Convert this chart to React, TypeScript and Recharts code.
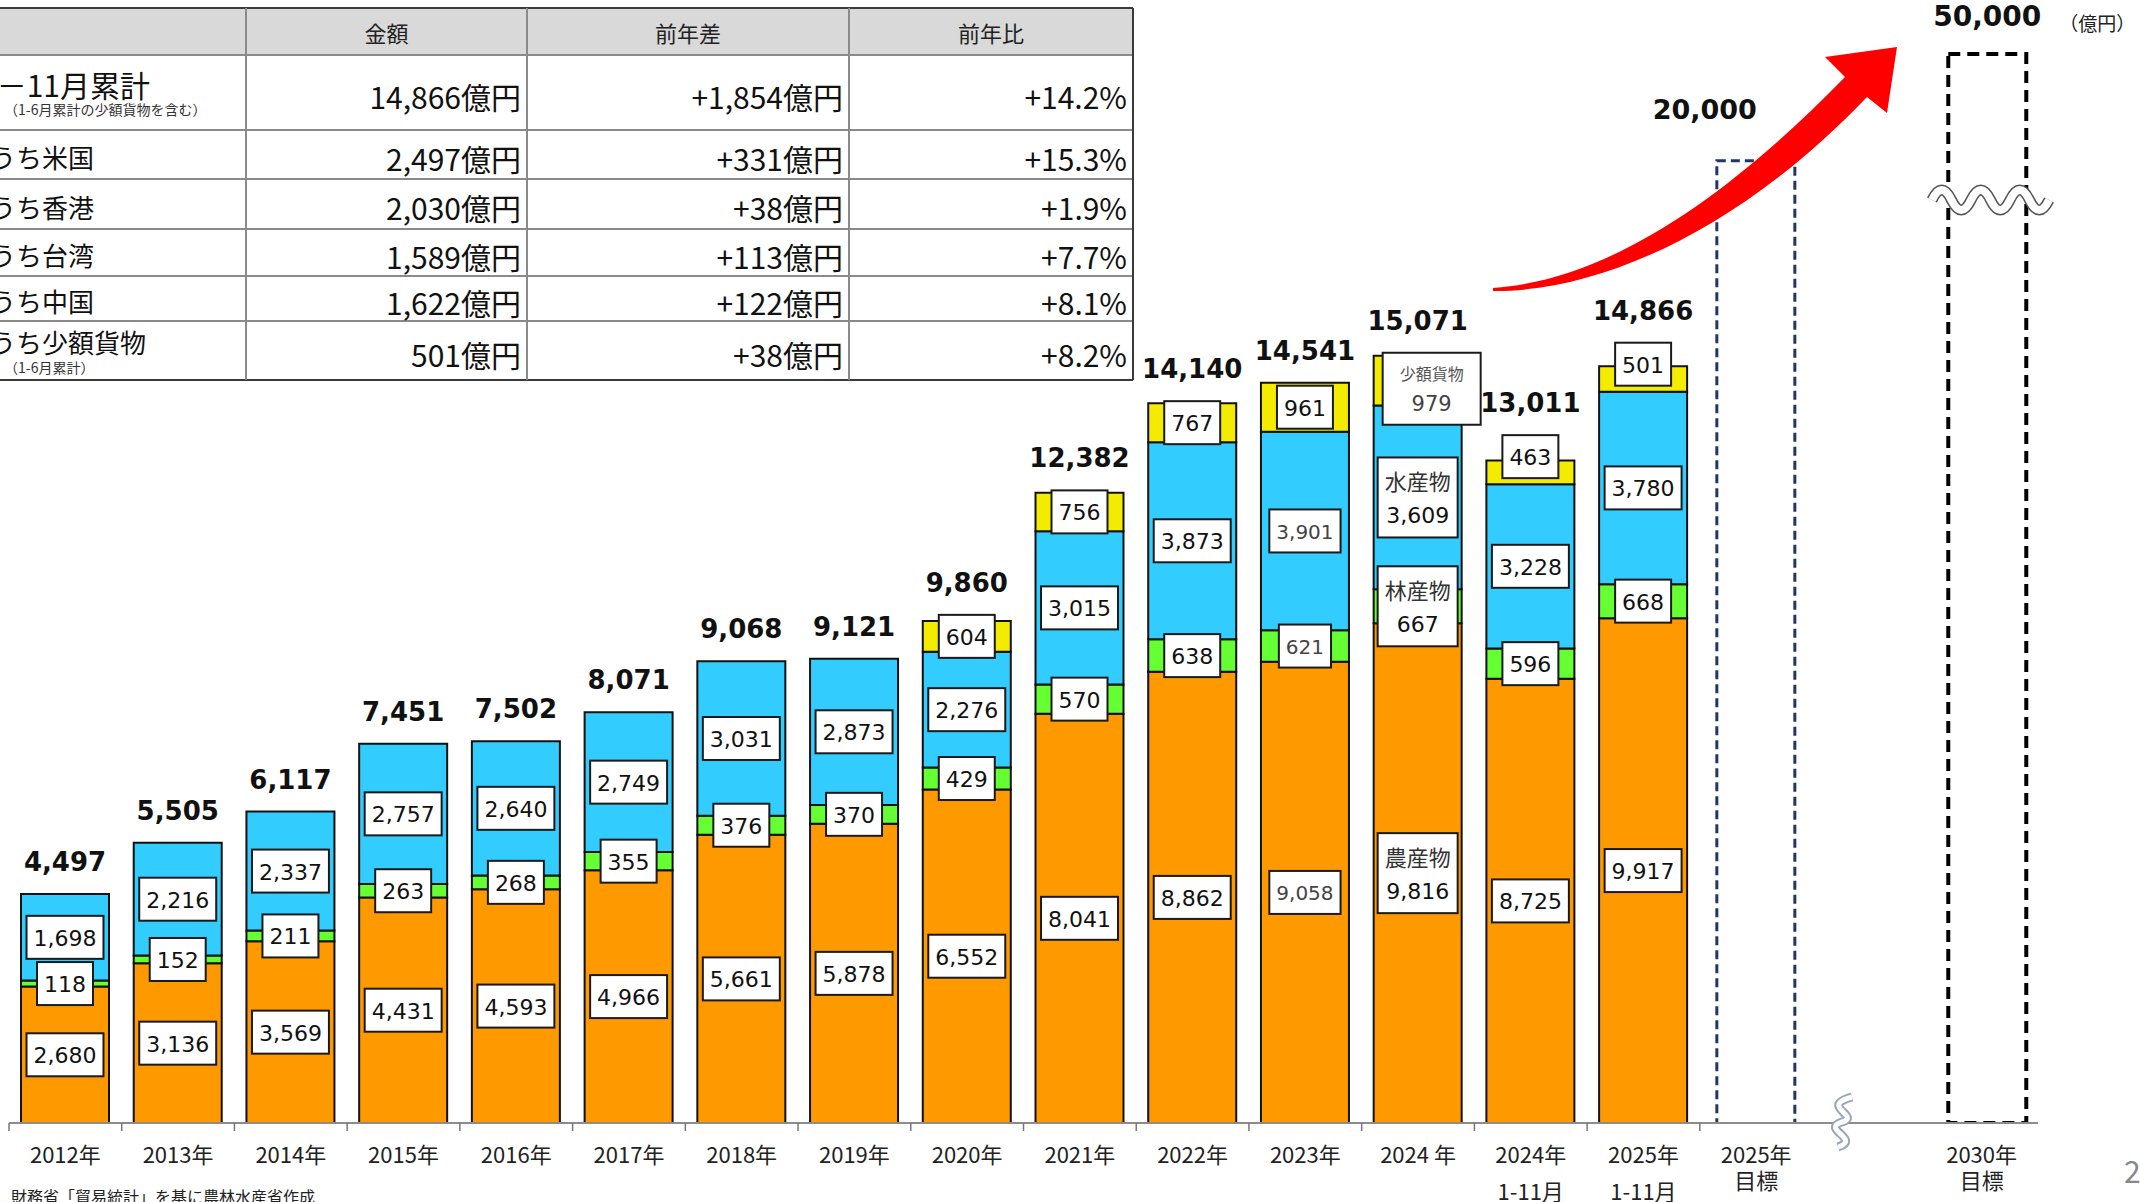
import React from "react";
import { ComposedChart, Bar, XAxis, YAxis, LabelList } from "recharts";

// categories on the x axis ("\n" splits a tick label into two lines, "" is the gap before 2030)
const categories = [
  "2012年", "2013年", "2014年", "2015年", "2016年", "2017年", "2018年", "2019年",
  "2020年", "2021年", "2022年", "2023年", "2024 年", "2024年\n1-11月", "2025年\n1-11月",
  "2025年\n目標", "", "2030年\n目標",
];

// 億円
const agri = [2680, 3136, 3569, 4431, 4593, 4966, 5661, 5878, 6552, 8041, 8862, 9058, 9816, 8725, 9917, null, null, null];
const forest = [118, 152, 211, 263, 268, 355, 376, 370, 429, 570, 638, 621, 667, 596, 668, null, null, null];
const fish = [1698, 2216, 2337, 2757, 2640, 2749, 3031, 2873, 2276, 3015, 3873, 3901, 3609, 3228, 3780, null, null, null];
const small = [null, null, null, null, null, null, null, null, 604, 756, 767, 961, 979, 463, 501, null, null, null];
const totals = [4497, 5505, 6117, 7451, 7502, 8071, 9068, 9121, 9860, 12382, 14140, 14541, 15071, 13011, 14866, null, null, null];

// targets: labelled value, and the height the dashed box is drawn to (axis is broken above it)
const targetLabel = [null, null, null, null, null, null, null, null, null, null, null, null, null, null, null, 20000, null, 50000];
const targetBox = [null, null, null, null, null, null, null, null, null, null, null, null, null, null, null, 18900, null, 21000];

// summary table
const tableHeaders = ["金額", "前年差", "前年比"];
const tableLabels = ["1－11月累計", "うち米国", "うち香港", "うち台湾", "うち中国", "うち少額貨物"];
const tableNotes = ["（1-6月累計の少額貨物を含む）", "", "", "", "", "（1-6月累計）"];
const tableAmount = ["14,866億円", "2,497億円", "2,030億円", "1,589億円", "1,622億円", "501億円"];
const tableDiff = ["+1,854億円", "+331億円", "+38億円", "+113億円", "+122億円", "+38億円"];
const tableRatio = ["+14.2%", "+15.3%", "+1.9%", "+7.7%", "+8.1%", "+8.2%"];

const SERIES_NAMES: Record<string, string> = { agri: "農産物", forest: "林産物", fish: "水産物", small: "少額貨物" };
const COLORS = { agri: "#FF9900", forest: "#66FF33", fish: "#33CCFF", small: "#F4EC00" };
const NAMED_CATEGORY = "2024 年";
const LIGHT_CATEGORY = "2023年";

const FONT_NUM = "'DejaVu Sans', Verdana, sans-serif";
const FONT_JP = "'Noto Sans CJK JP', 'Noto Sans CJK SC', sans-serif";

const W = 2140;
const H = 1202;
const MARGIN = { top: 3, right: 102, bottom: 0, left: 9 };
const X_AXIS_H = 79;
const Y_MAX = 22000;
const BAND = (W - MARGIN.left - MARGIN.right) / categories.length;
const BOX_H = 43;

const ROW_Y = [8, 55, 130, 179, 229, 276, 321, 380];
const COL_X = [246, 527, 849, 1133];

const data = categories.map((category, i) => ({
  category,
  agri: agri[i],
  forest: forest[i],
  fish: fish[i],
  small: small[i],
  total: totals[i],
  targetBox: targetBox[i],
  targetLabel: targetLabel[i],
}));

const fmt = (v: number) => v.toLocaleString("en-US");
const numWidth = (s: string, fs: number) =>
  s.split("").reduce((w, c) => w + (c === "," ? 0.318 : 0.636) * fs, 0);

function smallBoxTop(segTop: number, segH: number, named: boolean) {
  if (named) return segTop - 3;
  if (segH < 28) return segTop + segH - 6 - BOX_H;
  return segTop + segH / 2 - BOX_H / 2;
}

const rectOf = (props: any) => {
  const vb = props.viewBox ?? props;
  return { x: Number(vb.x), y: Number(vb.y), w: Number(vb.width), h: Number(vb.height) };
};

// which category a label belongs to, found from the bar's band
const entryOf = (props: any) => {
  const r = rectOf(props);
  const i = Math.floor((r.x + r.w / 2 - MARGIN.left) / BAND);
  return data[i];
};

function valueBox(series: string, value: number, x: number, y: number, w: number, h: number, category: string) {
  const cx = x + w / 2;
  const named = category === NAMED_CATEGORY;
  const text = fmt(value);
  if (named && series === "small") {
    const bw = 98;
    const bh = 72;
    const top = y - 3;
    const bx = cx + 14;
    return (
      <g>
        <rect x={bx - bw / 2} y={top} width={bw} height={bh} fill="#fff" stroke="#1a1a1a" strokeWidth={2} />
        <text x={bx} y={top + 20} textAnchor="middle" dominantBaseline="central" fontFamily={FONT_JP} fontSize={16} fill="#555">
          {SERIES_NAMES[series]}
        </text>
        <text x={bx} y={top + 51} textAnchor="middle" dominantBaseline="central" fontFamily={FONT_NUM} fontSize={21} fill="#444">
          {text}
        </text>
      </g>
    );
  }
  if (named) {
    const bw = 80;
    const bh = 80;
    const cy = y + h / 2;
    return (
      <g>
        <rect x={cx - bw / 2} y={cy - bh / 2} width={bw} height={bh} fill="#fff" stroke="#1a1a1a" strokeWidth={2} />
        <text x={cx} y={cy - 17} textAnchor="middle" dominantBaseline="central" fontFamily={FONT_JP} fontSize={22} fill="#333">
          {SERIES_NAMES[series]}
        </text>
        <text x={cx} y={cy + 18} textAnchor="middle" dominantBaseline="central" fontFamily={FONT_NUM} fontSize={22} fill="#111">
          {text}
        </text>
      </g>
    );
  }
  const light = category === LIGHT_CATEGORY && series !== "small";
  const fs = light ? 20 : 22;
  const bw = numWidth(text, fs) + 14;
  const top = series === "small" ? smallBoxTop(y, h, false) : y + h / 2 - BOX_H / 2;
  return (
    <g>
      <rect x={cx - bw / 2} y={top} width={bw} height={BOX_H} fill="#fff" stroke="#1a1a1a" strokeWidth={2} />
      <text x={cx} y={top + BOX_H / 2 + 1} textAnchor="middle" dominantBaseline="central" fontFamily={FONT_NUM} fontSize={fs} fill={light ? "#444" : "#111"}>
        {text}
      </text>
    </g>
  );
}

function totalLabel(x: number, top: number, value: number) {
  return (
    <text x={x} y={top - 32} textAnchor="middle" dominantBaseline="central" fontFamily={FONT_NUM} fontWeight="bold" fontSize={26} fill="#111">
      {fmt(value)}
    </text>
  );
}

const renderAgri = (props: any) => {
  const d = entryOf(props);
  if (!d || d.agri == null) return null;
  const r = rectOf(props);
  return valueBox("agri", d.agri, r.x, r.y, r.w, r.h, d.category);
};

// fish layer also carries the forest boxes (so they sit above the blue) and the totals of bars without 少額貨物
const renderFish = (props: any) => {
  const d = entryOf(props);
  if (!d || d.fish == null) return null;
  const r = rectOf(props);
  const perUnit = r.h / d.fish;
  const forestH = (d.forest ?? 0) * perUnit;
  return (
    <g>
      {valueBox("fish", d.fish, r.x, r.y, r.w, r.h, d.category)}
      {d.forest != null && valueBox("forest", d.forest, r.x, r.y + r.h, r.w, forestH, d.category)}
      {d.small == null && d.total != null && totalLabel(r.x + r.w / 2, r.y, d.total)}
    </g>
  );
};

const renderSmall = (props: any) => {
  const d = entryOf(props);
  if (!d || d.small == null) return null;
  const r = rectOf(props);
  const boxTop = smallBoxTop(r.y, r.h, d.category === NAMED_CATEGORY);
  return (
    <g>
      {valueBox("small", d.small, r.x, r.y, r.w, r.h, d.category)}
      {d.total != null && totalLabel(r.x + r.w / 2, Math.min(r.y, boxTop), d.total)}
    </g>
  );
};

const renderTarget = (props: any) => {
  const d = entryOf(props);
  if (!d || d.targetLabel == null) return null;
  const r = rectOf(props);
  const cx = r.x + r.w / 2;
  const first = d.category.startsWith("2025");
  if (first) {
    return (
      <text x={cx - 51} y={r.y - 51} textAnchor="middle" dominantBaseline="central" fontFamily={FONT_NUM} fontWeight="bold" fontSize={27} fill="#111">
        {fmt(d.targetLabel)}
      </text>
    );
  }
  return (
    <g>
      <text x={cx + 6} y={r.y - 37} textAnchor="middle" dominantBaseline="central" fontFamily={FONT_NUM} fontWeight="bold" fontSize={28} fill="#111">
        {fmt(d.targetLabel)}
      </text>
      <text x={cx + 116} y={r.y - 31} textAnchor="middle" dominantBaseline="central" fontFamily={FONT_JP} fontSize={19} fill="#222">
        （億円）
      </text>
    </g>
  );
};

const TargetRect = (props: any) => {
  const { x, y, width, height, index } = props;
  if (!height || height <= 0) return null;
  const first = categories[index]?.startsWith("2025");
  return (
    <rect
      x={x + 5 + (first ? 0 : 6)}
      y={y}
      width={width - 10}
      height={height + (first ? 3 : 0)}
      fill="none"
      stroke={first ? "#1F3864" : "#000"}
      strokeWidth={first ? 3 : 4}
      strokeDasharray={first ? "9 5" : "12 7"}
    />
  );
};

function CategoryTick(props: any) {
  const { x, y, payload, index } = props;
  const lines = String(payload?.value ?? "").split("\n");
  const gap = lines[1] === "目標" ? 26 : 37;
  return (
    <g>
      {index <= 14 && <line x1={x - BAND / 2} x2={x - BAND / 2} y1={y} y2={y + 8} stroke="#777" strokeWidth={1.5} />}
      {index === 14 && <line x1={x + BAND / 2} x2={x + BAND / 2} y1={y} y2={y + 8} stroke="#777" strokeWidth={1.5} />}
      {lines.map((t, i) => (
        <text key={i} x={x} y={y + 30 + i * gap} textAnchor="middle" dominantBaseline="central" fontFamily={FONT_JP} fontSize={22} fill="#222">
          {t}
        </text>
      ))}
    </g>
  );
}

function SummaryTable() {
  const rowMid = (i: number) => (ROW_Y[i + 1] + ROW_Y[i + 2]) / 2;
  return (
    <g>
      <rect x={-10} y={ROW_Y[0]} width={COL_X[3] + 10} height={ROW_Y[1] - ROW_Y[0]} fill="#D9D9D9" />
      {ROW_Y.map((y, i) => (
        <line key={`h${i}`} x1={-10} x2={COL_X[3]} y1={y} y2={y} stroke={i === 0 || i === ROW_Y.length - 1 ? "#3a3a3a" : "#8a8a8a"} strokeWidth={2} />
      ))}
      {COL_X.map((x, i) => (
        <line key={`v${i}`} x1={x} x2={x} y1={ROW_Y[0]} y2={ROW_Y[ROW_Y.length - 1]} stroke={i === 3 ? "#3a3a3a" : "#8a8a8a"} strokeWidth={2} />
      ))}
      {tableHeaders.map((t, i) => (
        <text key={t} x={(COL_X[i] + COL_X[i + 1]) / 2} y={(ROW_Y[0] + ROW_Y[1]) / 2} textAnchor="middle" dominantBaseline="central" fontFamily={FONT_JP} fontSize={22} fill="#222">
          {t}
        </text>
      ))}
      {tableLabels.map((t, i) => {
        const mid = rowMid(i);
        const note = tableNotes[i];
        return (
          <g key={t}>
            <text x={i === 0 ? -20 : -10} y={note ? mid - 9 : mid + 2} dominantBaseline="central" fontFamily={FONT_JP} fontSize={i === 0 ? 30 : 26} fill="#111">
              {t}
            </text>
            {note && (
              <text x={4} y={mid + 16} dominantBaseline="central" fontFamily={FONT_JP} fontSize={14} fill="#333">
                {note}
              </text>
            )}
            <text x={COL_X[1] - 6} y={mid + 3} textAnchor="end" dominantBaseline="central" fontFamily={FONT_JP} fontSize={30} fill="#111">
              {tableAmount[i]}
            </text>
            <text x={COL_X[2] - 6} y={mid + 3} textAnchor="end" dominantBaseline="central" fontFamily={FONT_JP} fontSize={30} fill="#111">
              {tableDiff[i]}
            </text>
            <text x={COL_X[3] - 6} y={mid + 3} textAnchor="end" dominantBaseline="central" fontFamily={FONT_JP} fontSize={30} fill="#111">
              {tableRatio[i]}
            </text>
          </g>
        );
      })}
    </g>
  );
}

export default function App() {
  return (
    <div style={{ position: "absolute", left: 0, top: 0, width: W, height: H, overflow: "hidden", background: "#fff" }}>
      <ComposedChart width={W} height={H} data={data} margin={MARGIN}>
        <XAxis
          dataKey="category"
          interval={0}
          height={X_AXIS_H}
          tickLine={false}
          tickSize={0}
          tickMargin={0}
          axisLine={{ stroke: "#8c8c8c", strokeWidth: 2 }}
          tick={(p: any) => <CategoryTick {...p} />}
        />
        <YAxis hide type="number" domain={[0, Y_MAX]} allowDataOverflow />
        <Bar dataKey="agri" stackId="a" barSize={88} fill={COLORS.agri} stroke="#111" strokeWidth={2} isAnimationActive={false}>
          <LabelList dataKey="agri" content={renderAgri} />
        </Bar>
        <Bar dataKey="forest" stackId="a" barSize={88} fill={COLORS.forest} stroke="#111" strokeWidth={2} isAnimationActive={false} />
        <Bar dataKey="fish" stackId="a" barSize={88} fill={COLORS.fish} stroke="#111" strokeWidth={2} isAnimationActive={false}>
          <LabelList dataKey="fish" content={renderFish} />
        </Bar>
        <Bar dataKey="small" stackId="a" barSize={88} fill={COLORS.small} stroke="#111" strokeWidth={2} isAnimationActive={false}>
          <LabelList dataKey="small" content={renderSmall} />
        </Bar>
        <Bar dataKey="targetBox" stackId="a" barSize={88} shape={(p: any) => <TargetRect {...p} />} isAnimationActive={false}>
          <LabelList dataKey="targetBox" content={renderTarget} />
        </Bar>
      </ComposedChart>

      <svg width={W} height={H} style={{ position: "absolute", left: 0, top: 0, pointerEvents: "none" }}>
        <SummaryTable />

        {/* growth arrow */}
        <path
          d="M 1493 291 C 1600 292, 1740 230, 1867 97 L 1887 113 L 1897 47 L 1825 57 L 1845 77 C 1730 195, 1610 280, 1493 288 Z"
          fill="#FF0000"
        />

        {/* wavy break on the 2030 box */}
        <path d="M1932 200 Q1941.75 180 1951.5 200 T1971 200 T1990.5 200 T2010 200 T2029.5 200 T2049 200" fill="none" stroke="#555" strokeWidth={11} />
        <path d="M1932 200 Q1941.75 180 1951.5 200 T1971 200 T1990.5 200 T2010 200 T2029.5 200 T2049 200" fill="none" stroke="#fff" strokeWidth={8} />

        {/* axis break */}
        <path d="M 1852 1097 C 1818 1106, 1862 1116, 1842 1122 C 1820 1129, 1862 1139, 1838 1147" fill="none" stroke="#97A6BA" strokeWidth={9} />
        <path d="M 1852 1097 C 1818 1106, 1862 1116, 1842 1122 C 1820 1129, 1862 1139, 1838 1147" fill="none" stroke="#fff" strokeWidth={5} />

        <text x={11} y={1196} dominantBaseline="central" fontFamily={FONT_JP} fontSize={16} fill="#222">
          財務省「貿易統計」を基に農林水産省作成
        </text>
        <text x={2124} y={1170} dominantBaseline="central" fontFamily={FONT_JP} fontSize={30} fill="#888">
          2
        </text>
      </svg>
    </div>
  );
}
